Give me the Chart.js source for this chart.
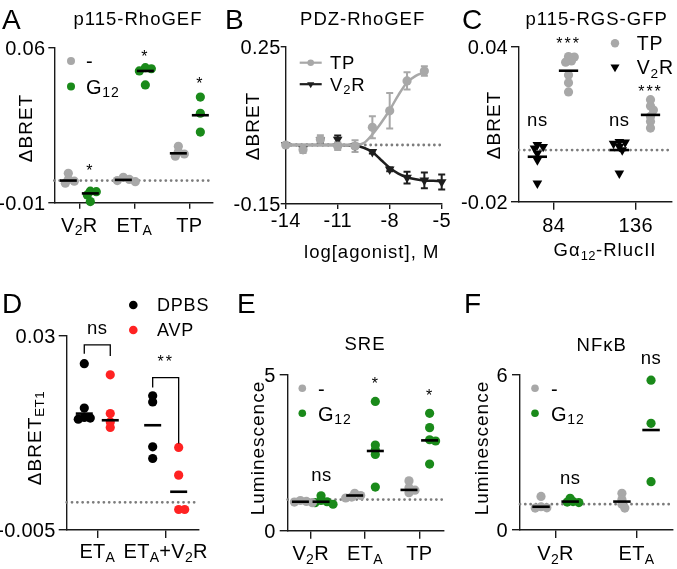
<!DOCTYPE html>
<html>
<head>
<meta charset="utf-8">
<script src="https://cdn.jsdelivr.net/npm/chart.js@4.4.1/dist/chart.umd.min.js"></script>
<style>
  html, body { margin: 0; padding: 0; background: #fff; }
  #fig { position: relative; width: 677px; height: 569px; overflow: hidden; font-family: "Liberation Sans", Arial, sans-serif; color: #000; }
  #fig canvas { position: absolute; left: 0; top: 0; }
  .txt { position: absolute; white-space: nowrap; line-height: 1; }
  .letter { font-size: 28px; }
  .title { font-size: 18.5px; letter-spacing: 1px; transform: translateX(-50%); }
  .ytitle { font-size: 19px; letter-spacing: 1px; transform: translate(-50%, -50%) rotate(-90deg); }
  sub { font-size: 70%; vertical-align: -0.3em; line-height: 0; letter-spacing: 0.5px; }
</style>
</head>
<body>
<div id="fig">
  <canvas id="cA" width="677" height="569"></canvas>
  <canvas id="cB" width="677" height="569"></canvas>
  <canvas id="cC" width="677" height="569"></canvas>
  <canvas id="cD" width="677" height="569"></canvas>
  <canvas id="cE" width="677" height="569"></canvas>
  <canvas id="cF" width="677" height="569"></canvas>

  <!-- panel letters -->
  <div class="txt letter" style="left:2px;top:5.6px">A</div>
  <div class="txt letter" style="left:225px;top:5.6px">B</div>
  <div class="txt letter" style="left:462px;top:5.6px">C</div>
  <div class="txt letter" style="left:2px;top:289.6px">D</div>
  <div class="txt letter" style="left:237px;top:289.6px">E</div>
  <div class="txt letter" style="left:464px;top:289.6px">F</div>

  <!-- titles -->
  <div class="txt title" style="left:138px;top:10px">p115-RhoGEF</div>
  <div class="txt title" style="left:362.7px;top:10px">PDZ-RhoGEF</div>
  <div class="txt title" style="left:596.7px;top:10px">p115-RGS-GFP</div>
  <div class="txt title" style="left:365px;top:334.5px">SRE</div>
  <div class="txt title" style="left:601.7px;top:336px">NFκB</div>

  <!-- axis titles -->
  <div class="txt ytitle" style="left:25px;top:128px">ΔBRET</div>
  <div class="txt ytitle" style="left:251.5px;top:126px">ΔBRET</div>
  <div class="txt ytitle" style="left:493.3px;top:125px">ΔBRET</div>
  <div class="txt ytitle" style="left:34px;top:437.5px">ΔBRET<sub>ET1</sub></div>
  <div class="txt ytitle" style="left:256.5px;top:447.5px">Luminescence</div>
  <div class="txt ytitle" style="left:480.5px;top:448px">Luminescence</div>
  <div class="txt title" style="left:371.7px;top:243.3px">log[agonist], M</div>
  <div class="txt title" style="left:605px;top:241px">Gα<sub>12</sub>-RlucII</div>
</div>

<script>
// ---------- data ----------
// A: p115-RhoGEF
const aCats = ['V{2}R', 'ET{A}', 'TP'];
const aYTicks = [-0.01, 0.06];
const aNone = [[0.0033, 0.0005, -0.0003, -0.0012], [0.0015, 0.0005, 0.0, -0.0005], [0.0155, 0.013, 0.012, 0.011]];
const aNoneMed = [0.0, 0.0003, 0.0123];
const aG12 = [[-0.0048, -0.005, -0.0065, -0.0095], [0.051, 0.0505, 0.0495, 0.0432], [0.0377, 0.0304, 0.0219]];
const aG12Med = [-0.0058, 0.0495, 0.0295];

// B: PDZ-RhoGEF dose response
const bXTicks = [-14, -11, -8, -5];
const bYTicks = [-0.15, 0.25];
const bDose = [-14, -13, -12, -11, -10, -9, -8, -7, -6];
const bTP = [0, -0.012, 0.014, -0.003, -0.003, 0.045, 0.087, 0.163, 0.188];
const bTPErr = [0.004, 0.008, 0.011, 0.01, 0.015, 0.028, 0.045, 0.022, 0.012];
const bV2RDose = [-14, -13, -12, -11, -10, -9, -8, -7, -6, -5];
const bV2R = [0, -0.01, 0.012, 0.014, -0.002, -0.0175, -0.062, -0.083, -0.09, -0.094];
const bV2RErr = [0.003, 0.005, 0.006, 0.01, 0.005, 0.004, 0.005, 0.015, 0.02, 0.019];
const bTPFitX = [-14, -13, -12, -11, -10, -9.5, -9, -8.5, -8, -7.5, -7, -6.5, -6];
const bTPFit = [0, 0, 0, 0, 0.001, 0.005, 0.027, 0.056, 0.089, 0.127, 0.159, 0.176, 0.185];
const bV2RFitX = [-14, -13, -12, -11, -10, -9.5, -9, -8.5, -8, -7.5, -7, -6.5, -6, -5.5, -5];
const bV2RFit = [0, 0, 0, 0, -0.001, -0.007, -0.018, -0.038, -0.058, -0.073, -0.082, -0.087, -0.09, -0.091, -0.092];

// C: p115-RGS-GFP
const cCats = ['84', '136'];
const cYTicks = [-0.02, 0.04];
const cTP = [[0.0362, 0.036, 0.0345, 0.034, 0.029, 0.026, 0.0225], [0.0195, 0.017, 0.0155, 0.013, 0.011, 0.0085]];
const cTPMean = [0.0307, 0.0136];
const cV2R = [[0.002, 0.0013, 0.0007, -0.0013, -0.0039, -0.0129], [0.0032, 0.003, 0.0025, 0.0013, 0.0, -0.009]];
const cV2RMean = [-0.0026, 0.0];

// D: ΔBRET ET1
const dCats = ['ET{A}', 'ET{A}+V{2}R'];
const dYTicks = [-0.005, 0.03];
const dDPBS = [[0.025, 0.017, 0.0153, 0.0152, 0.015], [0.0192, 0.0181, 0.010, 0.0079]];
const dDPBSMean = [0.016, 0.0139];
const dAVP = [[0.023, 0.016, 0.0145, 0.0135], [0.0099, 0.0049, -0.0013, -0.0013]];
const dAVPMean = [0.0148, 0.0019];

// E: SRE
const eCats = ['V{2}R', 'ET{A}', 'TP'];
const eYTicks = [0, 5];
const eNone = [[0.97, 0.94, 0.92, 0.9], [1.2, 1.13, 1.08, 1.05], [1.6, 1.38, 1.3, 1.22]];
const eNoneMed = [0.93, 1.13, 1.31];
const eG12 = [[1.12, 0.97, 0.93, 0.9, 0.85], [4.15, 2.75, 2.6, 2.45, 1.4], [3.77, 3.31, 2.92, 2.88, 2.14]];
const eG12Med = [0.93, 2.56, 2.9];

// F: NFκB
const fCats = ['V{2}R', 'ET{A}'];
const fYTicks = [0, 6];
const fNone = [[1.3, 0.9, 0.86, 0.85], [1.42, 1.18, 1.0, 0.85]];
const fNoneMed = [0.9, 1.1];
const fG12 = [[1.23, 1.1, 1.08, 1.06], [5.8, 4.13, 1.87]];
const fG12Med = [1.1, 3.87];

// ---------- styles ----------
const FONT = '"Liberation Sans", Arial, sans-serif';
const GREY = '#a8a8a8';
const GREEN = '#1a8a1a';
const RED = '#ff2222';
const BLACK = '#000000';
const DARK = '#1e1e1e';
const AXIS = '#1a1a1a';
const DOT = '#7c7c7c';
const TICK = 20;
const W = 677, H = 569;

// ---------- panel layout ----------
const panels = {
  cA: {
    area: [54.3, 47.7, 213, 202.7], x: [0.545, 3.43], y: aYTicks, xticks: [1, 2, 3], xlabels: aCats,
    tick: 6, ygap: 9, xlab: 29, base: 0, medHalf: 8.5,
    groups: [
      { vals: aNone, meds: aNoneMed, off: -0.2, color: GREY, style: 'circle' },
      { vals: aG12, meds: aG12Med, off: 0.2, color: GREEN, style: 'circle' }
    ],
    legend: { dx: 16.7, dy: 13.3, gap: 25.5, tx: 31.7, size: 20, r: 4, items: [['-', GREY, 'circle'], ['G{12}', GREEN, 'circle']] },
    notes: [{ x: 1.2, y: 0.0061, t: '*' }, { x: 2.2, y: 0.0577, t: '*' }, { x: 3.2, y: 0.0457, t: '*' }]
  },
  cB: {
    area: [285.7, 46.7, 441.7, 204], x: [-14, -5], y: bYTicks, xticks: bXTicks, xlabels: bXTicks.map(String),
    tick: 5, ygap: 5, xlab: 23, base: 0,
    legend: { dx: 25, dy: 16, gap: 21.5, tx: 44.3, size: 18.5, r: 3.3, line: 11, items: [['TP', GREY, 'circle'], ['V{2}R', DARK, 'triangle']] },
    errs: [
      { x: bV2RDose, y: bV2R, err: bV2RErr, color: DARK },
      { x: bDose, y: bTP, err: bTPErr, color: GREY }
    ],
    notes: []
  },
  cC: {
    area: [519, 46.7, 677, 201.7], x: [0.576, 2.435], y: cYTicks, xticks: [1, 2], xlabels: cCats,
    tick: 8, ygap: 11, xlab: 30, base: 0, medHalf: 10,
    groups: [
      { vals: cV2R, meds: cV2RMean, off: -0.2, color: BLACK, style: 'triangle' },
      { vals: cTP, meds: cTPMean, off: 0.18, color: GREY, style: 'circle' }
    ],
    legend: { dx: 96, dy: -3.4, gap: 23.7, tx: 117.7, size: 19.5, r: 4.2, items: [['TP', GREY, 'circle'], ['V{2}R', BLACK, 'triangle']] },
    notes: [
      { x: 0.8, y: 0.011, t: 'ns' }, { x: 1.8, y: 0.011, t: 'ns' },
      { x: 1.18, y: 0.0426, t: '***' }, { x: 2.18, y: 0.024, t: '***' }
    ]
  },
  cD: {
    area: [66.7, 336, 198.3, 530], x: [0.553, 2.477], y: dYTicks, xticks: [1, 2], xlabels: dCats,
    tick: 8, ygap: 11, xlab: 28.3, base: 0, medHalf: 8.5,
    groups: [
      { vals: dDPBS, meds: dDPBSMean, off: -0.19, color: BLACK, style: 'circle' },
      { vals: dAVP, meds: dAVPMean, off: 0.19, color: RED, style: 'circle' }
    ],
    legend: { dx: 66.6, dy: -31, gap: 25, tx: 90.3, size: 18, r: 4.3, items: [['DPBS', BLACK, 'circle'], ['AVP', RED, 'circle']] },
    notes: [{ x: 1, y: 0.0313, t: 'ns' }, { x: 2, y: 0.026, t: '**' }],
    brackets: [
      { x1: 0.81, x2: 1.19, y: 0.0284, y1: 0.0268, y2: 0.0264 },
      { x1: 1.81, x2: 2.19, y: 0.0225, y1: 0.0207, y2: 0.0106 }
    ]
  },
  cE: {
    area: [287.7, 375, 444, 530.7], x: [0.576, 3.455], y: eYTicks, xticks: [1, 2, 3], xlabels: eCats,
    tick: 8, ygap: 12, xlab: 29.3, base: 1, medHalf: 8.5,
    groups: [
      { vals: eNone, meds: eNoneMed, off: -0.19, color: GREY, style: 'circle' },
      { vals: eG12, meds: eG12Med, off: 0.19, color: GREEN, style: 'circle' }
    ],
    legend: { dx: 14.6, dy: 13.3, gap: 25, tx: 30.3, size: 20, r: 3.8, items: [['-', GREY, 'circle'], ['G{12}', GREEN, 'circle']] },
    notes: [{ x: 1.2, y: 1.76, t: 'ns' }, { x: 2.2, y: 4.84, t: '*' }, { x: 3.2, y: 4.47, t: '*' }]
  },
  cF: {
    area: [520, 375, 677, 530], x: [0.56, 2.444], y: fYTicks, xticks: [1, 2], xlabels: fCats,
    tick: 8, ygap: 12, xlab: 30, base: 1, medHalf: 9,
    groups: [
      { vals: fNone, meds: fNoneMed, off: -0.18, color: GREY, style: 'circle' },
      { vals: fG12, meds: fG12Med, off: 0.18, color: GREEN, style: 'circle' }
    ],
    legend: { dx: 15, dy: 13.3, gap: 25, tx: 31, size: 20, r: 3.8, items: [['-', GREY, 'circle'], ['G{12}', GREEN, 'circle']] },
    notes: [{ x: 1.18, y: 1.95, t: 'ns' }, { x: 2.18, y: 6.6, t: 'ns' }]
  }
};

// ---------- helpers ----------
// 'V{2}R' -> parts with subscripts
function richParts(s) {
  const out = [];
  const re = /([^{}]+)|\{([^}]*)\}/g;
  let m;
  while ((m = re.exec(s))) out.push(m[1] !== undefined ? { t: m[1], sub: false } : { t: m[2], sub: true });
  return out;
}

function drawRich(ctx, s, x, y, size, align, spacing) {
  const parts = richParts(s);
  const subSize = size * 0.7;
  ctx.letterSpacing = (spacing == null ? 0.3 : spacing) + 'px';
  let w = 0;
  parts.forEach(p => {
    ctx.font = (p.sub ? subSize : size) + 'px ' + FONT;
    p.w = ctx.measureText(p.t).width;
    w += p.w;
  });
  let cx = align === 'center' ? x - w / 2 : align === 'right' ? x - w : x;
  ctx.textAlign = 'left';
  ctx.textBaseline = 'alphabetic';
  parts.forEach(p => {
    ctx.font = (p.sub ? subSize : size) + 'px ' + FONT;
    ctx.fillText(p.t, cx, y + (p.sub ? size * 0.18 : 0));
    cx += p.w;
  });
}

// simple beeswarm so overlapping replicates spread sideways
function swarm(vals, cx, kx, ky, minD) {
  const xs = new Array(vals.length);
  const placed = [];
  const idx = vals.map((v, i) => i).sort((a, b) => vals[b] - vals[a]);
  const steps = [0, 3, -3, 6, -6, 9, -9, 12, -12];
  idx.forEach(i => {
    const py = vals[i] * ky;
    let dx = steps[steps.length - 1];
    for (const s of steps) {
      if (placed.every(p => Math.hypot(s - p.dx, py - p.py) >= minD)) { dx = s; break; }
    }
    placed.push({ dx, py });
    xs[i] = cx + dx / kx;
  });
  return xs;
}

function markerOpts(style, r) {
  return style === 'triangle'
    ? { pointStyle: 'triangle', radius: r ? r * 1.25 : 5.6, rotation: 180, borderWidth: 0 }
    : { pointStyle: 'circle', radius: r || 4.6, rotation: 0, borderWidth: 0 };
}

// ---------- decoration plugin: tick labels, legends, error bars, notes ----------
const decor = {
  id: 'decor',
  beforeDatasetsDraw(chart) {
    const p = panels[chart.canvas.id];
    if (!p.errs) return;
    const ctx = chart.ctx, xs = chart.scales.x, ys = chart.scales.y;
    ctx.save();
    p.errs.forEach(e => {
      ctx.strokeStyle = e.color;
      ctx.lineWidth = 2;
      e.x.forEach((xv, i) => {
        const px = xs.getPixelForValue(xv);
        const top = ys.getPixelForValue(e.y[i] + e.err[i]);
        const bot = ys.getPixelForValue(e.y[i] - e.err[i]);
        ctx.beginPath();
        ctx.moveTo(px, top); ctx.lineTo(px, bot);
        ctx.moveTo(px - 3.5, top); ctx.lineTo(px + 3.5, top);
        ctx.moveTo(px - 3.5, bot); ctx.lineTo(px + 3.5, bot);
        ctx.stroke();
      });
    });
    ctx.restore();
  },
  afterDraw(chart) {
    const p = panels[chart.canvas.id];
    const ctx = chart.ctx, xs = chart.scales.x, ys = chart.scales.y, a = chart.chartArea;
    ctx.save();
    ctx.fillStyle = '#000';

    // axis tick labels
    p.y.forEach(v => drawRich(ctx, String(v), a.left - p.ygap, ys.getPixelForValue(v) + 0.358 * TICK, TICK, 'right'));
    p.xticks.forEach((v, i) => drawRich(ctx, p.xlabels[i], xs.getPixelForValue(v), a.bottom + p.xlab, TICK, 'center'));

    // legend
    const lg = p.legend;
    lg.items.forEach((it, i) => {
      const mx = a.left + lg.dx, my = a.top + lg.dy + i * lg.gap;
      if (lg.line) {
        ctx.strokeStyle = it[1];
        ctx.lineWidth = 2.2;
        ctx.beginPath();
        ctx.moveTo(mx - lg.line, my); ctx.lineTo(mx + lg.line, my);
        ctx.stroke();
      }
      ctx.fillStyle = it[1];
      Chart.helpers.drawPoint(ctx, markerOpts(it[2], lg.r), mx, my);
      ctx.fillStyle = '#000';
      drawRich(ctx, it[0], a.left + lg.tx, my + 0.36 * lg.size, lg.size, 'left', 0.8);
    });

    // significance notes
    p.notes.forEach(n => {
      const px = xs.getPixelForValue(n.x), py = ys.getPixelForValue(n.y);
      const star = /^\*+$/.test(n.t);
      const size = star ? 16 : 18.5;
      drawRich(ctx, n.t, px, py + (star ? 0.58 : 0.26) * size, size, 'center', star ? 2 : 0.5);
    });

    // brackets
    (p.brackets || []).forEach(b => {
      ctx.strokeStyle = '#000';
      ctx.lineWidth = 1.3;
      ctx.beginPath();
      ctx.moveTo(xs.getPixelForValue(b.x1), ys.getPixelForValue(b.y1));
      ctx.lineTo(xs.getPixelForValue(b.x1), ys.getPixelForValue(b.y));
      ctx.lineTo(xs.getPixelForValue(b.x2), ys.getPixelForValue(b.y));
      ctx.lineTo(xs.getPixelForValue(b.x2), ys.getPixelForValue(b.y2));
      ctx.stroke();
    });
    ctx.restore();
  }
};

function axisOpts(p, isX) {
  const lim = isX ? p.x : p.y;
  const ticks = isX ? p.xticks : p.y;
  return {
    type: 'linear',
    position: isX ? 'bottom' : 'left',
    min: lim[0], max: lim[1],
    afterFit: s => { if (isX) s.height = 0; else s.width = 0; },
    afterBuildTicks: s => { s.ticks = ticks.map(v => ({ value: v })); },
    ticks: { display: false },
    grid: { drawOnChartArea: false, drawTicks: true, tickLength: p.tick, color: AXIS, lineWidth: 1.4 },
    border: { display: true, color: AXIS, width: 1.4 }
  };
}

function dottedSet(p) {
  return {
    data: [{ x: p.x[0], y: p.base }, { x: p.x[1], y: p.base }],
    showLine: true, borderColor: DOT, borderWidth: 2.8, borderDash: [0.01, 5.3],
    borderCapStyle: 'round', pointRadius: 0, order: 9, clip: false
  };
}

function categoryDatasets(p) {
  const kx = (p.area[2] - p.area[0]) / (p.x[1] - p.x[0]);
  const ky = (p.area[3] - p.area[1]) / (p.y[1] - p.y[0]);
  const sets = [];
  p.groups.forEach(g => {
    const pts = [];
    g.vals.forEach((vals, ci) => {
      const cx = p.xticks[ci] + g.off;
      const xsw = swarm(vals, cx, kx, ky, 4.5);
      vals.forEach((v, k) => pts.push({ x: xsw[k], y: v }));
      const h = p.medHalf / kx;
      sets.push({
        data: [{ x: cx - h, y: g.meds[ci] }, { x: cx + h, y: g.meds[ci] }],
        showLine: true, borderColor: '#000', borderWidth: 2.6, pointRadius: 0, order: 0, clip: false
      });
    });
    const m = markerOpts(g.style);
    sets.push({
      data: pts, backgroundColor: g.color, pointBackgroundColor: g.color, pointBorderWidth: 0,
      pointStyle: m.pointStyle, pointRadius: m.radius, pointRotation: m.rotation, order: 2, clip: false
    });
  });
  sets.push(dottedSet(p));
  return sets;
}

function doseDatasets(p) {
  const tri = markerOpts('triangle'), circ = markerOpts('circle');
  return [
    {
      data: bDose.map((x, i) => ({ x, y: bTP[i] })), backgroundColor: GREY, pointBackgroundColor: GREY,
      pointBorderWidth: 0, pointStyle: 'circle', pointRadius: circ.radius, order: 1, clip: false
    },
    {
      data: bTPFitX.map((x, i) => ({ x, y: bTPFit[i] })), showLine: true, borderColor: GREY, borderWidth: 2.5,
      pointRadius: 0, cubicInterpolationMode: 'monotone', order: 2, clip: false
    },
    {
      data: bV2RDose.map((x, i) => ({ x, y: bV2R[i] })), backgroundColor: DARK, pointBackgroundColor: DARK,
      pointBorderWidth: 0, pointStyle: 'triangle', pointRotation: 180, pointRadius: tri.radius, order: 3, clip: false
    },
    {
      data: bV2RFitX.map((x, i) => ({ x, y: bV2RFit[i] })), showLine: true, borderColor: DARK, borderWidth: 2.5,
      pointRadius: 0, cubicInterpolationMode: 'monotone', order: 4, clip: false
    },
    dottedSet(p)
  ];
}

Object.keys(panels).forEach(id => {
  const p = panels[id];
  new Chart(document.getElementById(id), {
    type: 'scatter',
    data: { datasets: id === 'cB' ? doseDatasets(p) : categoryDatasets(p) },
    options: {
      responsive: false,
      animation: false,
      devicePixelRatio: 1,
      events: [],
      layout: { padding: { left: p.area[0], top: p.area[1], right: W - p.area[2], bottom: H - p.area[3] } },
      plugins: { legend: { display: false }, tooltip: { enabled: false } },
      scales: { x: axisOpts(p, true), y: axisOpts(p, false) }
    },
    plugins: [decor]
  });
});
</script>
</body>
</html>
